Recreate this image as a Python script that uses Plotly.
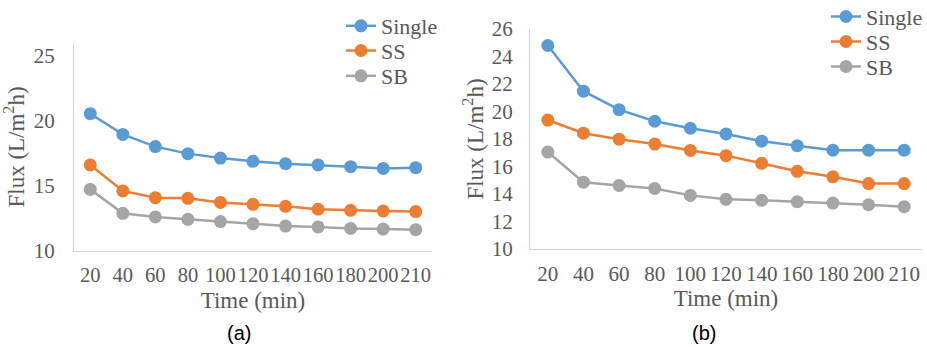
import plotly.graph_objects as go

time_labels = ["20", "40", "60", "80", "100", "120", "140", "160", "180", "200", "210"]

a_single = [20.56, 18.97, 18.03, 17.49, 17.15, 16.90, 16.72, 16.62, 16.49, 16.35, 16.41]
a_ss = [16.62, 14.62, 14.10, 14.05, 13.74, 13.59, 13.44, 13.21, 13.13, 13.08, 13.03]
a_sb = [14.74, 12.90, 12.62, 12.44, 12.26, 12.10, 11.92, 11.85, 11.74, 11.69, 11.64]

b_single = [24.80, 21.48, 20.13, 19.29, 18.78, 18.37, 17.84, 17.51, 17.19, 17.19, 17.19]
b_ss = [19.38, 18.42, 17.99, 17.63, 17.17, 16.79, 16.23, 15.65, 15.25, 14.76, 14.76]
b_sb = [17.05, 14.86, 14.62, 14.40, 13.90, 13.61, 13.54, 13.44, 13.34, 13.22, 13.08]

series_names = ["Single", "SS", "SB"]
colors = ["#5B9BD5", "#ED7D31", "#A5A5A5"]

SERIF = "Liberation Serif"
TXT = "#595959"
W, H = 927, 347

def px_x(p):
    return p / W

def px_y(p):
    return (H - p) / H

fig = go.Figure()

# one legend per trace so each legend row sits exactly where the reference has it
legend_centers_a = [26, 50.7, 76]
legend_centers_b = [16.7, 41.7, 66.7]
leg_common = dict(font=dict(family=SERIF, size=22, color=TXT), bgcolor="rgba(0,0,0,0)",
                  xanchor="left", yanchor="middle", tracegroupgap=0, itemwidth=30)
legends = {}
idx = 1
for panel, data, centers, lx, xa, ya in [
    ("a", [a_single, a_ss, a_sb], legend_centers_a, 341, "x", "y"),
    ("b", [b_single, b_ss, b_sb], legend_centers_b, 826, "x2", "y2"),
]:
    for vals, name, col, cy in zip(data, series_names, colors, centers):
        key = "legend" if idx == 1 else f"legend{idx}"
        fig.add_trace(go.Scatter(x=time_labels, y=vals, name=name, mode="lines+markers",
                                 line=dict(color=col, width=2.5),
                                 marker=dict(color=col, size=13),
                                 xaxis=xa, yaxis=ya, legend=key))
        legends[key] = dict(x=px_x(lx), y=px_y(cy), **leg_common)
        idx += 1

axis_common = dict(showgrid=False, zeroline=False, showline=True, linecolor="#D6D6D6",
                   linewidth=1.2, ticks="", fixedrange=True, automargin=False, tickangle=0)
title_font = dict(family=SERIF, size=23, color=TXT)

fig.update_layout(
    width=W, height=H, margin=dict(l=0, r=0, t=0, b=0, autoexpand=False),
    paper_bgcolor="white", plot_bgcolor="white",
    font=dict(family=SERIF, color=TXT),
    xaxis=dict(domain=[px_x(74), px_x(432)], anchor="y", type="category",
               range=[-0.5, 10.5], ticklabelstandoff=5,
               tickfont=dict(family=SERIF, size=20.5, color=TXT),
               title=dict(text="Time (min)", font=title_font, standoff=7),
               **axis_common),
    yaxis=dict(domain=[px_y(251), px_y(43)], anchor="x", range=[10, 26],
               tickvals=[10, 15, 20, 25], ticklabelstandoff=14,
               tickfont=dict(family=SERIF, size=21, color=TXT),
               title=dict(text="Flux (L/m<sup>2</sup>h)", font=title_font, standoff=9),
               **axis_common),
    xaxis2=dict(domain=[px_x(530), px_x(922)], anchor="y2", type="category",
                range=[-0.5, 10.5], ticklabelstandoff=6,
                tickfont=dict(family=SERIF, size=21, color=TXT),
                title=dict(text="Time (min)", font=title_font, standoff=1),
                **axis_common),
    yaxis2=dict(domain=[px_y(249), px_y(29)], anchor="x2", range=[10, 26],
                tickvals=list(range(10, 27, 2)), ticklabelstandoff=12,
                tickfont=dict(family=SERIF, size=21, color=TXT),
                title=dict(text="Flux (L/m<sup>2</sup>h)", font=title_font, standoff=1),
                **axis_common),
    annotations=[
        dict(text="(a)", x=px_x(239), y=px_y(333), xref="paper", yref="paper", showarrow=False,
             xanchor="center", yanchor="middle",
             font=dict(family="Liberation Sans", size=20, color="#000000")),
        dict(text="(b)", x=px_x(704), y=px_y(333), xref="paper", yref="paper", showarrow=False,
             xanchor="center", yanchor="middle",
             font=dict(family="Liberation Sans", size=20, color="#000000")),
    ],
    showlegend=True,
    **legends,
)

fig.write_html("out.html", config={"displayModeBar": False},
               post_script="document.body.style.margin='0';document.body.style.overflow='hidden';")
